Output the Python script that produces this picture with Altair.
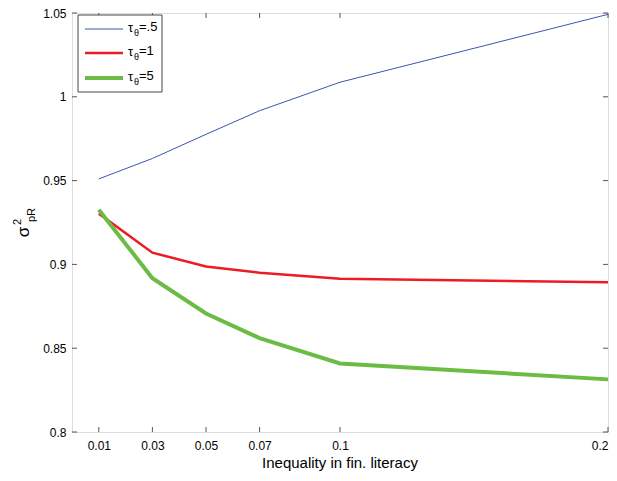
import altair as alt
import pandas as pd

x_vals = [0.01, 0.03, 0.05, 0.07, 0.1, 0.2]
blue = [0.951, 0.9632, 0.9776, 0.9917, 1.0087, 1.0492]
red = [0.9303, 0.9070, 0.8988, 0.8950, 0.8915, 0.8893]
green = [0.9326, 0.8918, 0.8707, 0.8560, 0.8409, 0.8314]
series_names = ["tau=.5", "tau=1", "tau=5"]
legend_labels = ["=.5", "=1", "=5"]
x_ticks = [0.01, 0.03, 0.05, 0.07, 0.1, 0.2]
y_ticks = [0.8, 0.85, 0.9, 0.95, 1.0, 1.05]
x_title = "Inequality in fin. literacy"

colors = ["#3b55b0", "#ec1c24", "#6cbb45"]
widths = [1.0, 2.5, 4.0]

W, H = 536, 419
FONT = "Liberation Sans"

rows = []
for name, ys in zip(series_names, [blue, red, green]):
    for xv, yv in zip(x_vals, ys):
        rows.append({"x": xv, "y": yv, "s": name})
df = pd.DataFrame(rows)

xs = alt.Scale(domain=[0, 0.2], nice=False, zero=False)
ys_ = alt.Scale(domain=[0.8, 1.05], nice=False, zero=False)

x_axis = alt.Axis(values=x_ticks, labelExpr="datum.value == 0.1 ? '0.1' : datum.value == 0.2 ? '0.2' : format(datum.value, '.2f')",
                  title=None, grid=False, ticks=False, domain=False,
                  labelFlush=True, labelOverlap=False,
                  labelFont=FONT, labelFontSize=12, labelColor="#000", labelPadding=8)
y_axis = alt.Axis(values=y_ticks, labelExpr="datum.value == 1 ? '1' : format(datum.value, '')",
                  title=None, grid=False, ticks=False, domain=False,
                  labelFlush=False, labelOverlap=False,
                  labelFont=FONT, labelFontSize=12, labelColor="#000", labelPadding=6)

layers = []
for name, c, w in zip(series_names, colors, widths):
    layers.append(
        alt.Chart(df[df.s == name]).mark_line(color=c, strokeWidth=w).encode(
            x=alt.X("x:Q", scale=xs, axis=x_axis),
            y=alt.Y("y:Q", scale=ys_, axis=y_axis),
        )
    )

# inward ticks
xt = pd.DataFrame({"t": x_ticks})
yt = pd.DataFrame({"t": y_ticks})
tick_color = "#555"
layers.append(alt.Chart(xt).mark_rule(color=tick_color, strokeWidth=1).encode(
    x=alt.X("t:Q", scale=xs), y=alt.value(H), y2=alt.value(H - 5)))
layers.append(alt.Chart(xt).mark_rule(color=tick_color, strokeWidth=1).encode(
    x=alt.X("t:Q", scale=xs), y=alt.value(0), y2=alt.value(5)))
layers.append(alt.Chart(yt).mark_rule(color=tick_color, strokeWidth=1).encode(
    y=alt.Y("t:Q", scale=ys_), x=alt.value(0), x2=alt.value(5)))
layers.append(alt.Chart(yt).mark_rule(color=tick_color, strokeWidth=1).encode(
    y=alt.Y("t:Q", scale=ys_), x=alt.value(W), x2=alt.value(W - 5)))

# x-axis title
layers.append(alt.Chart(pd.DataFrame({"t": [x_title]})).mark_text(
    font=FONT, fontSize=15, align="center", baseline="alphabetic", color="#000").encode(
    text="t:N", x=alt.value(W / 2), y=alt.value(H + 36)))

# legend box
leg_box = pd.DataFrame({"a": [0]})
layers.append(alt.Chart(leg_box).mark_rect(fill="white", stroke="#444", strokeWidth=1).encode(
    x=alt.value(6), x2=alt.value(90), y=alt.value(2), y2=alt.value(79)))
leg_ys = [16, 40, 65]
for lab, c, w, ly in zip(legend_labels, colors, widths, leg_ys):
    d = pd.DataFrame({"lab": [lab]})
    layers.append(alt.Chart(d).mark_rule(color=c, strokeWidth=w).encode(
        x=alt.value(13), x2=alt.value(51), y=alt.value(ly)))
    layers.append(alt.Chart(d).mark_text(text="τ", font=FONT, fontSize=13, align="left", baseline="middle").encode(
        x=alt.value(56), y=alt.value(ly - 1)))
    layers.append(alt.Chart(d).mark_text(text="θ", font=FONT, fontSize=9, align="left", baseline="middle").encode(
        x=alt.value(62), y=alt.value(ly + 4)))
    layers.append(alt.Chart(d).mark_text(font=FONT, fontSize=13, align="left", baseline="middle").encode(
        text="lab:N", x=alt.value(67), y=alt.value(ly - 2)))

# y-axis title: sigma^2_pR rotated
lab_df = pd.DataFrame({"a": [0]})
layers.append(alt.Chart(lab_df).mark_text(text="σ", font=FONT, fontSize=17, angle=270, align="center", baseline="middle").encode(
    x=alt.value(-48), y=alt.value(219)))
layers.append(alt.Chart(lab_df).mark_text(text="2", font=FONT, fontSize=11, angle=270, align="center", baseline="middle").encode(
    x=alt.value(-54), y=alt.value(209)))
layers.append(alt.Chart(lab_df).mark_text(text="pR", font=FONT, fontSize=11, angle=270, align="center", baseline="middle").encode(
    x=alt.value(-40), y=alt.value(202)))

chart = alt.layer(*layers).properties(
    width=W, height=H,
    autosize=alt.AutoSizeParams(type="none"),
    padding={"left": 64, "top": 5, "right": 1, "bottom": 41},
).configure_view(stroke="#555", strokeWidth=1).configure(background="white")

chart.save("out.html", embed_options={"renderer": "svg", "actions": False})
